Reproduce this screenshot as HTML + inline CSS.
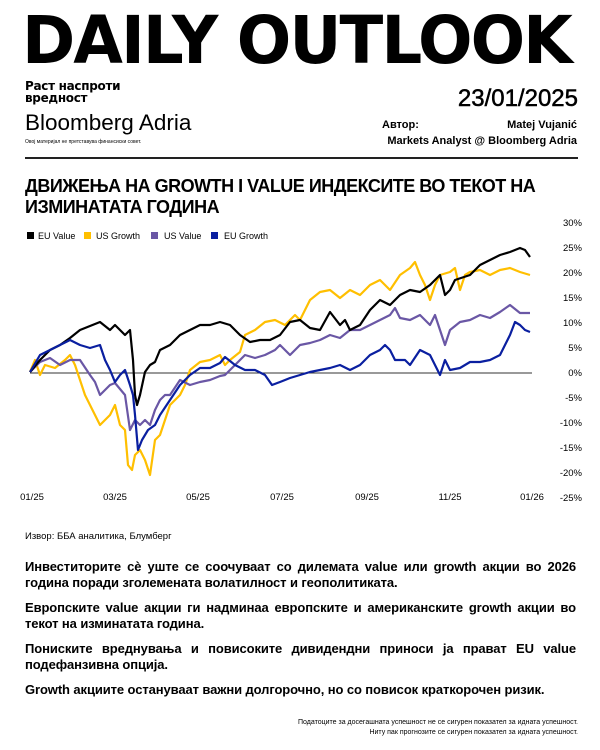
<!DOCTYPE html>
<html><head><meta charset="utf-8"><style>
body{margin:0;background:#fff;width:600px;height:750px;position:relative;overflow:hidden;font-family:"Liberation Sans","DejaVu Sans",sans-serif;color:#000}
.a{position:absolute;white-space:nowrap}
.p{position:absolute;left:25px;width:551px;font-size:13px;font-weight:bold;line-height:16px;text-align:justify;font-family:"Liberation Sans",sans-serif;letter-spacing:-0.1px}
</style></head><body>
<div class="a" style="left:22px;top:8px;font-size:66px;font-weight:900;letter-spacing:-2px;transform:scaleX(0.972);transform-origin:left;line-height:66px;font-family:'DejaVu Sans',sans-serif">DAILY OUTLOOK</div>
<div class="a" style="left:25px;top:80px;font-size:12px;font-weight:bold;line-height:12px;font-family:'DejaVu Sans',sans-serif;letter-spacing:-0.3px">Раст наспроти<br>вредност</div>
<div class="a" style="left:25px;top:110px;font-size:22.5px;line-height:26px">Bloomberg Adria</div>
<div class="a" style="left:25px;top:139px;font-size:5px">Овој материјал не претставува финансиски совет.</div>
<div class="a" style="right:22px;top:86px;font-size:24px;line-height:26px;-webkit-text-stroke:0.5px #000">23/01/2025</div>
<div class="a" style="left:382px;top:119px;font-size:11px;font-weight:bold">Автор:</div>
<div class="a" style="right:23px;top:119px;font-size:11px;font-weight:bold">Matej Vujanić</div>
<div class="a" style="right:23px;top:135px;font-size:11px;font-weight:bold">Markets Analyst @ Bloomberg Adria</div>
<div class="a" style="left:25px;top:157px;width:553px;height:2px;background:#222"></div>
<div class="a" style="left:25px;top:176px;font-size:18px;font-weight:bold;line-height:21px;letter-spacing:-0.5px;font-family:'Liberation Sans',sans-serif">ДВИЖЕЊА НА GROWTH I VALUE ИНДЕКСИТЕ ВО ТЕКОТ НА<br>ИЗМИНАТАТА ГОДИНА</div>
<svg class="a" style="left:0;top:0" width="600" height="520" font-family="Liberation Sans" font-size="9">
<g fill="#000"><rect x="27" y="232" width="7" height="7"/><text x="38" y="239">EU Value</text></g>
<rect x="84" y="232" width="7" height="7" fill="#ffbf00"/><text x="96" y="239">US Growth</text>
<rect x="151" y="232" width="7" height="7" fill="#6a57a5"/><text x="164" y="239">US Value</text>
<rect x="211" y="232" width="7" height="7" fill="#0a1fa0"/><text x="224" y="239">EU Growth</text>
<g text-anchor="end" font-size="9.5" fill="#000">
<text x="582" y="226">30%</text><text x="582" y="251">25%</text><text x="582" y="276">20%</text><text x="582" y="301">15%</text><text x="582" y="326">10%</text><text x="582" y="351">5%</text><text x="582" y="376">0%</text><text x="582" y="401">-5%</text><text x="582" y="426">-10%</text><text x="582" y="451">-15%</text><text x="582" y="476">-20%</text><text x="582" y="501">-25%</text>
</g>
<g text-anchor="middle" font-size="9.5">
<text x="32" y="500">01/25</text><text x="115" y="500">03/25</text><text x="198" y="500">05/25</text><text x="282" y="500">07/25</text><text x="367" y="500">09/25</text><text x="450" y="500">11/25</text><text x="532" y="500">01/26</text>
</g>
<line x1="30" y1="373" x2="532" y2="373" stroke="#333" stroke-width="1"/>
<g fill="none" stroke-width="2.2" stroke-linejoin="round">
<polyline stroke="#ffbf00" points="30,372 35,360 40,375 45,365 55,368 65,360 70,355 75,365 80,380 85,395 90,405 95,415 100,425 105,420 110,415 115,405 120,425 125,430 128,465 132,470 135,455 140,450 145,460 150,475 155,440 160,435 165,420 170,405 175,400 180,395 185,385 190,370 200,362 210,360 220,355 225,365 230,360 240,352 245,335 255,330 265,322 275,320 285,325 295,315 300,320 310,300 320,292 330,290 340,298 350,290 360,295 370,285 380,280 390,290 400,275 410,268 415,262 420,275 425,285 430,300 435,285 440,275 450,272 455,268 460,290 465,275 470,272 480,270 490,275 500,270 510,268 520,272 530,275"/>
<polyline stroke="#6a57a5" points="30,372 40,362 50,358 60,365 70,360 80,360 90,375 95,382 100,395 105,390 110,385 115,383 125,395 130,430 135,420 140,425 145,420 150,425 155,410 160,400 165,395 170,395 180,380 190,385 200,382 210,380 220,376 225,375 235,365 245,355 255,358 265,355 275,350 280,345 290,355 300,345 310,343 320,340 330,335 340,338 350,330 360,330 370,325 380,320 390,315 395,308 400,318 410,320 420,315 430,325 435,315 440,330 445,345 450,330 460,322 470,320 480,315 490,318 500,312 510,305 520,313 530,313"/>
<polyline stroke="#000" points="30,372 40,360 50,350 60,345 70,338 80,330 90,326 100,322 110,330 115,325 125,335 130,330 133,360 135,395 137,405 140,395 145,372 150,365 155,362 160,350 170,345 180,335 190,330 200,325 210,325 220,322 230,325 240,335 250,342 260,340 270,340 280,335 290,322 300,320 310,328 320,330 330,312 340,325 345,320 350,330 360,325 370,310 380,300 390,305 400,295 410,290 420,292 430,285 440,275 445,295 450,290 455,280 470,275 480,265 490,260 500,255 510,252 520,248 525,250 530,257"/>
<polyline stroke="#0a1fa0" points="30,372 40,355 50,350 60,345 70,340 80,345 90,348 100,345 105,360 110,370 115,382 120,375 125,370 130,385 133,395 135,415 138,450 142,440 148,430 155,425 160,415 170,400 180,385 190,375 200,368 210,368 220,363 225,357 235,365 245,370 255,370 265,375 272,385 280,382 290,378 300,375 310,372 320,370 330,368 340,365 350,370 360,365 370,355 380,350 385,345 390,350 395,360 405,360 410,365 420,350 430,355 440,375 445,360 450,370 460,368 470,362 480,362 490,360 500,355 510,335 515,322 520,325 525,330 530,332"/>
</g>
</svg>
<div class="a" style="left:25px;top:531px;font-size:9.5px">Извор: ББА аналитика, Блумберг</div>
<div class="p" style="top:559px">Инвеститорите сè уште се соочуваат со дилемата value или growth акции во 2026 година поради зголемената волатилност и геополитиката.</div>
<div class="p" style="top:600px">Европските value акции ги надминаа европските и американските growth акции во текот на изминатата година.</div>
<div class="p" style="top:641px">Пониските вреднувања и повисоките дивидендни приноси ја прават EU value подефанзивна опција.</div>
<div class="p" style="top:682px">Growth акциите остануваат важни долгорочно, но со повисок краткорочен ризик.</div>
<div class="a" style="right:22px;top:718px;font-size:7px;text-align:right;line-height:10px">Податоците за досегашната успешност не се сигурен показател за идната успешност.<br>Ниту пак прогнозите се сигурен показател за идната успешност.</div>
</body></html>
